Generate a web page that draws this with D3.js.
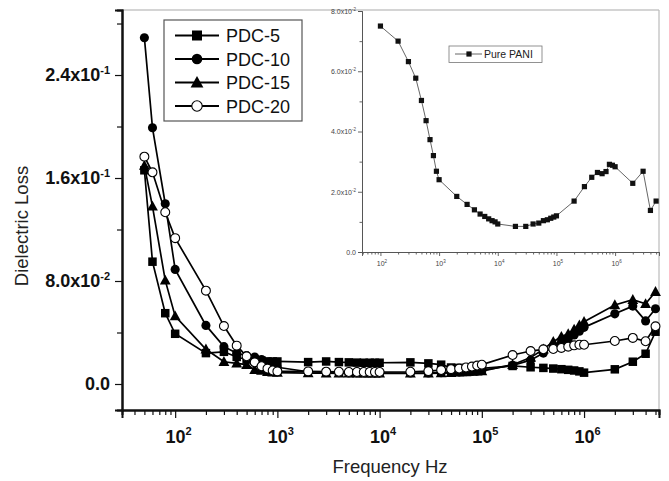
<!DOCTYPE html>
<html>
<head>
<meta charset="utf-8">
<script src="https://cdn.jsdelivr.net/npm/d3@7"></script>
<style>
  body { margin: 0; background: #fff; }
  svg { font-family: "Liberation Sans", Arial, sans-serif; }
</style>
</head>
<body>
<script>
// Frequencies (Hz) of the composites
var freq = [50, 60, 80, 100,
  200, 300, 400, 500, 600, 700, 800, 900,
  1e3, 2e3, 3e3, 4e3, 5e3, 6e3, 7e3, 8e3, 9e3,
  1e4, 2e4, 3e4, 4e4, 5e4, 6e4, 7e4, 8e4, 9e4,
  1e5, 2e5, 3e5, 4e5, 5e5, 6e5, 7e5, 8e5, 9e5,
  1e6, 2e6, 3e6, 4e6, 5e6];

var pdc5 = [0.166, 0.095, 0.055, 0.039,
  0.024, 0.025, 0.021, 0.019, 0.018, 0.018, 0.0175, 0.0175,
  0.0175, 0.017, 0.0175, 0.017, 0.0168, 0.0166, 0.0165, 0.0165, 0.0165,
  0.0165, 0.0168, 0.016, 0.015, 0.0128, 0.0125, 0.0123, 0.0122, 0.0122,
  0.0122, 0.014, 0.013, 0.0125, 0.012, 0.0115, 0.011, 0.0105, 0.0098,
  0.0088, 0.0114, 0.0173, 0.0235, 0.0406];

var pdc10 = [0.269, 0.199, 0.140, 0.089,
  0.0455, 0.029, 0.024, 0.022, 0.021, 0.019, 0.017, 0.015,
  0.013, 0.0095, 0.009, 0.0088, 0.0086, 0.0085, 0.0085, 0.0085, 0.0085,
  0.0085, 0.0085, 0.0085, 0.0088, 0.009, 0.0092, 0.0095, 0.0098, 0.010,
  0.0105, 0.0145, 0.0185, 0.024, 0.029, 0.032, 0.035, 0.038, 0.041,
  0.044, 0.0545, 0.0605, 0.049, 0.0585];

var pdc15 = [0.1696, 0.138, 0.0805, 0.0527,
  0.027, 0.0173, 0.016, 0.015, 0.011, 0.0105, 0.0095, 0.009,
  0.0088, 0.0085, 0.0084, 0.0083, 0.0083, 0.0083, 0.0083, 0.0083, 0.0083,
  0.0083, 0.0083, 0.0083, 0.0085, 0.0087, 0.009, 0.0093, 0.0096, 0.0098,
  0.010, 0.015, 0.0205, 0.027, 0.0329, 0.0368, 0.039, 0.0425, 0.0458,
  0.0484, 0.0614, 0.0655, 0.0623, 0.0717];

var pdc20 = [0.1766, 0.1644, 0.1334, 0.1133,
  0.0725, 0.045, 0.0298, 0.0215, 0.0168, 0.0138, 0.012, 0.0105,
  0.0098, 0.0098, 0.0096, 0.0095, 0.0093, 0.0093, 0.0093, 0.0093, 0.0093,
  0.0093, 0.0095, 0.010, 0.0108, 0.0115, 0.012, 0.0128, 0.0135, 0.0143,
  0.015, 0.0225, 0.0256, 0.0269, 0.0272, 0.028, 0.029, 0.030, 0.0305,
  0.0305, 0.0334, 0.0358, 0.0332, 0.0448];

var seriesNames = ["PDC-5", "PDC-10", "PDC-15", "PDC-20"];
var seriesMarks = ["square", "circle", "triangle", "open"];

// Inset: pure PANI
var paniFreq = [100, 200, 300, 400, 500, 600, 700, 800, 900,
  1e3, 2e3, 3e3, 4e3, 5e3, 6e3, 7e3, 8e3, 9e3,
  1e4, 2e4, 3e4, 4e4, 5e4, 6e4, 7e4, 8e4, 9e4,
  1e5, 2e5, 3e5, 4e5, 5e5, 6e5, 7e5, 8e5, 9e5,
  1e6, 2e6, 3e6, 4e6, 5e6];
var pani = [0.0750, 0.0700, 0.0632, 0.0577, 0.0503, 0.0436, 0.0373, 0.0320, 0.0268,
  0.0240, 0.01845, 0.0158, 0.0140, 0.0126, 0.0118, 0.0110, 0.0104, 0.0100,
  0.0093, 0.0085, 0.0085, 0.0093, 0.0096, 0.0104, 0.0107, 0.0112, 0.0116,
  0.0120, 0.0169, 0.0217, 0.0248, 0.0264, 0.0260, 0.0267, 0.0291, 0.0288,
  0.0283, 0.0228, 0.0268, 0.0138, 0.0169];

// tick labels [mantissa, exponent]
var yTicks = [0, 0.08, 0.16, 0.24];
var yTickLabels = [["0.0", ""], ["8.0x10", "-2"], ["1.6x10", "-1"], ["2.4x10", "-1"]];
var yMinor = [0.04, 0.12, 0.20, 0.28];
var xTicks = [1e2, 1e3, 1e4, 1e5, 1e6];
var xTickExp = ["2", "3", "4", "5", "6"];
var insetYTicks = [0, 0.02, 0.04, 0.06, 0.08];
var insetYLabels = [["0.0", ""], ["2.0x10", "-2"], ["4.0x10", "-2"], ["6.0x10", "-2"], ["8.0x10", "-2"]];
var insetYMinor = [0.01, 0.03, 0.05, 0.07];

var W = 669, H = 481;
var margin = {top: 10, right: 10, bottom: 71, left: 122},
    width = W - margin.left - margin.right,
    height = H - margin.top - margin.bottom;

var svg = d3.select("body").append("svg")
    .attr("width", W).attr("height", H);

var x = d3.scaleLog().domain([30.2, 5.41e6]).range([0, width]);
var y = d3.scaleLinear().domain([-0.0202, 0.2905]).range([height, 0]);

// minor ticks for log axes: 2..9 times each decade
function logMinor(dom) {
  var out = [];
  for (var e = 1; e <= 7; e++) {
    for (var k = 2; k <= 9; k++) {
      var v = k * Math.pow(10, e);
      if (v >= dom[0] && v <= dom[1]) out.push(v);
    }
  }
  return out;
}

var g = svg.append("g")
    .attr("transform", "translate(" + margin.left + "," + margin.top + ")");

// frame: grey top/right
g.append("line").attr("x1", 0).attr("x2", width).attr("y1", 0).attr("y2", 0)
    .attr("stroke", "#aaa").attr("stroke-width", 1.2);
g.append("line").attr("x1", width).attr("x2", width).attr("y1", 0).attr("y2", height)
    .attr("stroke", "#bbb").attr("stroke-width", 1.2);

// superscript labels
function supLabel(sel, parts, small, rise) {
  sel.each(function(d, i) {
    var t = d3.select(this).text(null);
    var p = parts(d, i);
    t.append("tspan").text(p[0]);
    if (p[1]) t.append("tspan").attr("dy", -rise).attr("font-size", small).text(p[1]);
  });
}

// X axis
var xAxisG = g.append("g").attr("transform", "translate(0," + height + ")");
xAxisG.append("g").call(d3.axisBottom(x).tickValues(logMinor(x.domain())).tickSize(5).tickFormat(""));
xAxisG.append("g").attr("class", "major").call(d3.axisBottom(x).tickValues(xTicks).tickSize(8).tickPadding(6));
xAxisG.selectAll("path.domain").attr("stroke", "#111").attr("stroke-width", 2);
xAxisG.selectAll(".tick line").attr("stroke", "#111").attr("stroke-width", 1.2);
xAxisG.selectAll("g.major .tick text")
    .attr("font-size", 18).attr("font-weight", "bold").attr("fill", "#111")
    .attr("dy", "1.05em").attr("dx", 3)
    .call(supLabel, function(d, i) { return ["10", xTickExp[i]]; }, 11, 8);

// Y axis
var yAxisG = g.append("g");
yAxisG.append("g").call(d3.axisLeft(y).tickValues(yMinor).tickSize(5).tickFormat(""));
yAxisG.append("g").attr("class", "major").call(d3.axisLeft(y).tickValues(yTicks).tickSize(7).tickPadding(5));
yAxisG.selectAll("path.domain").attr("stroke", "#111").attr("stroke-width", 2);
yAxisG.selectAll(".tick line").attr("stroke", "#111").attr("stroke-width", 1.2);
yAxisG.selectAll("g.major .tick text")
    .attr("font-size", 18).attr("font-weight", "bold").attr("fill", "#111")
    .call(supLabel, function(d, i) { return yTickLabels[i]; }, 11, 7);

// axis titles
svg.append("text").attr("x", 390).attr("y", 473)
    .attr("text-anchor", "middle").attr("font-size", 18.5).attr("fill", "#222")
    .text("Frequency Hz");
svg.append("text").attr("transform", "translate(28,226) rotate(-90)")
    .attr("text-anchor", "middle").attr("font-size", 18.5).attr("fill", "#222")
    .text("Dielectric Loss");

// markers
function drawMark(sel, kind, size) {
  if (kind === "square") {
    sel.append("rect").attr("x", -size / 2).attr("y", -size / 2)
      .attr("width", size).attr("height", size).attr("fill", "#000");
  } else if (kind === "circle") {
    sel.append("circle").attr("r", size / 2 + 0.3).attr("fill", "#000");
  } else if (kind === "triangle") {
    var s = size * 1.1;
    sel.append("path").attr("d", "M0," + (-s * 0.6) + "L" + (s * 0.58) + "," + (s * 0.45) + "L" + (-s * 0.58) + "," + (s * 0.45) + "Z")
      .attr("fill", "#000");
  } else {
    sel.append("circle").attr("r", size / 2 + 0.2).attr("fill", "#fff")
      .attr("stroke", "#000").attr("stroke-width", 1.1);
  }
}

var allSeries = [pdc5, pdc10, pdc15, pdc20];
var line = d3.line()
    .x(function(d, i) { return x(freq[i]); })
    .y(function(d) { return y(d); });

allSeries.forEach(function(s, k) {
  g.append("path").attr("fill", "none").attr("stroke", "#000")
    .attr("stroke-width", 1.7).attr("d", line(s));
});
allSeries.forEach(function(s, k) {
  g.selectAll(".m" + k).data(s).enter().append("g")
    .attr("transform", function(d, i) { return "translate(" + x(freq[i]) + "," + y(d) + ")"; })
    .call(drawMark, seriesMarks[k], 8.5);
});

// legend
var leg = svg.append("g");
leg.append("rect").attr("x", 164).attr("y", 20).attr("width", 138).attr("height", 101)
    .attr("fill", "#fff").attr("stroke", "#555").attr("stroke-width", 1.2);
seriesNames.forEach(function(n, k) {
  var ly = 35.5 + k * 23.5;
  var e = leg.append("g").attr("transform", "translate(0," + ly + ")");
  e.append("line").attr("x1", 175).attr("x2", 219).attr("stroke", "#000").attr("stroke-width", 1.8);
  e.append("g").attr("transform", "translate(197,0)").call(drawMark, seriesMarks[k], 10);
  e.append("text").attr("x", 226).attr("y", 6.5).attr("font-size", 18).attr("fill", "#111").text(n);
});

// inset
var ix0 = 362, iy0 = 11, iw = 659 - 362, ih = 252 - 11;
var ig = svg.append("g").attr("transform", "translate(" + ix0 + "," + iy0 + ")");
var xi = d3.scaleLog().domain([48.5, 5.6e6]).range([0, iw]);
var yi = d3.scaleLinear().domain([0, 0.08]).range([ih, 0]);

var ixAxis = ig.append("g").attr("transform", "translate(0," + ih + ")");
ixAxis.append("g").call(d3.axisBottom(xi).tickValues(logMinor(xi.domain())).tickSize(2.5).tickFormat(""));
ixAxis.append("g").attr("class", "major").call(d3.axisBottom(xi).tickValues(xTicks).tickSize(4).tickPadding(3));
ixAxis.selectAll("g.major .tick text").attr("font-size", 7).attr("fill", "#444").attr("dy", "1em").attr("dx", 1)
    .call(supLabel, function(d, i) { return ["10", xTickExp[i]]; }, 4.5, 3);

var iyAxis = ig.append("g");
iyAxis.append("g").call(d3.axisLeft(yi).tickValues(insetYMinor).tickSize(2.5).tickFormat(""));
iyAxis.append("g").attr("class", "major").call(d3.axisLeft(yi).tickValues(insetYTicks).tickSize(4).tickPadding(2));
iyAxis.selectAll("g.major .tick text").attr("font-size", 7).attr("fill", "#444")
    .call(supLabel, function(d, i) { return insetYLabels[i]; }, 4.5, 3);
ig.selectAll("path.domain, .tick line").attr("stroke", "#555").attr("stroke-width", 0.9);

var iline = d3.line()
    .x(function(d, i) { return xi(paniFreq[i]); })
    .y(function(d) { return yi(d); });
ig.append("path").attr("fill", "none").attr("stroke", "#555").attr("stroke-width", 0.9)
    .attr("d", iline(pani));
ig.selectAll(".pm").data(pani).enter().append("rect")
    .attr("x", function(d, i) { return xi(paniFreq[i]) - 2.6; })
    .attr("y", function(d) { return yi(d) - 2.6; })
    .attr("width", 5.2).attr("height", 5.2).attr("fill", "#111");

// inset legend
var il = svg.append("g");
il.append("rect").attr("x", 449).attr("y", 46).attr("width", 93).attr("height", 16.5)
    .attr("fill", "#fff").attr("stroke", "#777").attr("stroke-width", 0.8);
il.append("line").attr("x1", 455).attr("x2", 482).attr("y1", 54).attr("y2", 54)
    .attr("stroke", "#555").attr("stroke-width", 0.9);
il.append("rect").attr("x", 466.4).attr("y", 51.4).attr("width", 5.2).attr("height", 5.2).attr("fill", "#111");
il.append("text").attr("x", 484).attr("y", 57.8).attr("font-size", 10.5).attr("fill", "#222")
    .text("Pure PANI");
</script>
</body>
</html>
